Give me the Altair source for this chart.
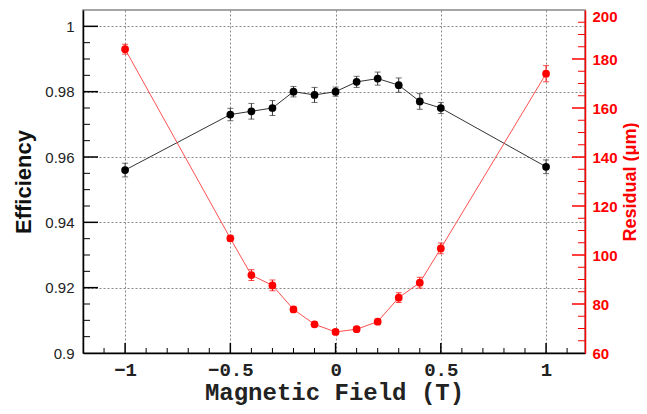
import altair as alt
import pandas as pd

field = [-1.0, -0.5, -0.4, -0.3, -0.2, -0.1, 0.0, 0.1, 0.2, 0.3, 0.4, 0.5, 1.0]
eff = [0.956, 0.973, 0.974, 0.975, 0.980, 0.979, 0.980, 0.983, 0.984, 0.982, 0.977, 0.975, 0.957]
eff_err = [0.0021, 0.0019, 0.0024, 0.0023, 0.0016, 0.0023, 0.0014, 0.0017, 0.0020, 0.0022, 0.0024, 0.0017, 0.0021]
res = [184.0, 106.8, 91.8, 87.6, 77.8, 71.7, 68.6, 69.7, 72.8, 82.6, 88.7, 102.7, 174.0]
res_err = [2.0, 1.2, 2.2, 2.2, 1.0, 1.0, 1.0, 1.0, 1.0, 2.0, 2.2, 2.2, 3.3]

x_major = [-1, -0.5, 0, 0.5, 1]
x_minor = [-1.1, -0.9, -0.8, -0.7, -0.6, -0.4, -0.3, -0.2, -0.1, 0.1, 0.2, 0.3, 0.4, 0.6, 0.7, 0.8, 0.9, 1.1]
left_major = [0.9, 0.92, 0.94, 0.96, 0.98, 1.0]
left_minor = [0.905, 0.91, 0.915, 0.925, 0.93, 0.935, 0.945, 0.95, 0.955, 0.965, 0.97, 0.975, 0.985, 0.99, 0.995]
right_major = [60, 80, 100, 120, 140, 160, 180, 200]
right_minor = [65, 70, 75, 85, 90, 95, 105, 110, 115, 125, 130, 135, 145, 150, 155, 165, 170, 175, 185, 190, 195]

RED = "#ff0000"
W, H = 502, 343

df_e = pd.DataFrame({"x": field, "y": eff, "e": eff_err})
df_e["lo"] = df_e["y"] - df_e["e"]
df_e["hi"] = df_e["y"] + df_e["e"]
df_r = pd.DataFrame({"x": field, "y": res, "e": res_err})
df_r["lo"] = df_r["y"] - df_r["e"]
df_r["hi"] = df_r["y"] + df_r["e"]

xscale = alt.Scale(domain=[-1.2, 1.185], nice=False, zero=False)
yl_scale = alt.Scale(domain=[0.9, 1.005], nice=False, zero=False)
yr_scale = alt.Scale(domain=[60, 200], nice=False, zero=False)

x_axis = alt.Axis(
    values=x_major, ticks=False, grid=True, gridDash=[2, 2], gridColor="#888", gridWidth=1,
    domainColor="black", domainWidth=1.5, labelFont="Liberation Mono", labelFontWeight="bold",
    labelFontSize=19, labelColor="#222", labelPadding=7, labelExpr="format(datum.value, '~g')",
    title="Magnetic Field (T)", titleFont="Liberation Mono", titleFontWeight="bold",
    titleFontSize=24, titleColor="#222", titlePadding=1,
)
yl_axis = alt.Axis(
    values=left_major, ticks=False, grid=True, gridDash=[2, 2], gridColor="#888", gridWidth=1,
    domainColor="black", domainWidth=1.5, labelFont="Liberation Sans", labelFontSize=15,
    labelColor="#222", labelPadding=9, labelExpr="format(datum.value, '~g')",
    title="Efficiency", titleFont="Liberation Sans", titleFontWeight="bold", titleFontSize=22,
    titleColor="#111", titlePadding=9,
)
yr_axis = alt.Axis(
    orient="right", values=right_major, ticks=False, grid=False,
    domainColor=RED, domainWidth=1.5, labelFont="Liberation Sans", labelFontWeight="bold",
    labelFontSize=15, labelColor=RED, labelPadding=7, labelExpr="format(datum.value, '~g')",
    labelBaseline={"condition": {"test": "datum.value == 200", "value": "top"}, "value": "middle"},
    labelOffset={"condition": {"test": "datum.value == 200", "value": -1}, "value": 0},
    title="Residual (μm)", titleFont="Liberation Sans", titleFontWeight="bold", titleFontSize=18,
    titleColor=RED, titlePadding=4, titleAngle=270, titleBaseline="top",
)

X = alt.X("x:Q", scale=xscale, axis=x_axis)

# efficiency layer
be = alt.Chart(df_e)
e_line = be.mark_line(color="#333", strokeWidth=1).encode(x=X, y=alt.Y("y:Q", scale=yl_scale, axis=yl_axis))
e_bar = be.mark_rule(color="#333", strokeWidth=1).encode(x="x:Q", y=alt.Y("lo:Q", scale=yl_scale), y2="hi:Q")
e_cap_lo = be.mark_tick(color="#333", orient="horizontal", size=6, thickness=1).encode(x="x:Q", y=alt.Y("lo:Q", scale=yl_scale))
e_cap_hi = be.mark_tick(color="#333", orient="horizontal", size=6, thickness=1).encode(x="x:Q", y=alt.Y("hi:Q", scale=yl_scale))
e_pts = be.mark_circle(color="black", size=60, opacity=1).encode(x="x:Q", y=alt.Y("y:Q", scale=yl_scale))

lmaj = alt.Chart(pd.DataFrame({"v": left_major[1:]})).mark_rule(color="black", strokeWidth=1.5).encode(
    y=alt.Y("v:Q", scale=yl_scale), x=alt.value(0), x2=alt.value(15))
lmin = alt.Chart(pd.DataFrame({"v": left_minor})).mark_rule(color="black", strokeWidth=1).encode(
    y=alt.Y("v:Q", scale=yl_scale), x=alt.value(0), x2=alt.value(7))
xmaj = alt.Chart(pd.DataFrame({"v": x_major})).mark_rule(color="black", strokeWidth=1.5).encode(
    x=alt.X("v:Q", scale=xscale), y=alt.value(H), y2=alt.value(H - 10))
xmin = alt.Chart(pd.DataFrame({"v": x_minor})).mark_rule(color="black", strokeWidth=1).encode(
    x=alt.X("v:Q", scale=xscale), y=alt.value(H), y2=alt.value(H - 5))

eff_layer = alt.layer(e_line, lmaj, lmin, xmaj, xmin, e_bar, e_cap_lo, e_cap_hi, e_pts)

# residual layer
br = alt.Chart(df_r)
r_line = br.mark_line(color="#ff5050", strokeWidth=1).encode(x="x:Q", y=alt.Y("y:Q", scale=yr_scale, axis=yr_axis))
r_bar = br.mark_rule(color=RED, strokeWidth=1).encode(x="x:Q", y=alt.Y("lo:Q", scale=yr_scale), y2="hi:Q")
r_cap_lo = br.mark_tick(color=RED, orient="horizontal", size=6, thickness=1).encode(x="x:Q", y=alt.Y("lo:Q", scale=yr_scale))
r_cap_hi = br.mark_tick(color=RED, orient="horizontal", size=6, thickness=1).encode(x="x:Q", y=alt.Y("hi:Q", scale=yr_scale))
r_pts = br.mark_circle(color=RED, size=60, opacity=1).encode(x="x:Q", y=alt.Y("y:Q", scale=yr_scale))
rmaj = alt.Chart(pd.DataFrame({"v": right_major[1:-1]})).mark_rule(color=RED, strokeWidth=1.5).encode(
    y=alt.Y("v:Q", scale=yr_scale), x=alt.value(W), x2=alt.value(W - 13))
rmin = alt.Chart(pd.DataFrame({"v": right_minor})).mark_rule(color=RED, strokeWidth=1).encode(
    y=alt.Y("v:Q", scale=yr_scale), x=alt.value(W), x2=alt.value(W - 7))

res_layer = alt.layer(r_line, rmaj, rmin, r_bar, r_cap_lo, r_cap_hi, r_pts)

chart = alt.layer(eff_layer, res_layer).resolve_scale(y="independent").properties(
    width=W, height=H,
    autosize=alt.AutoSizeParams(type="none"),
    padding={"left": 75, "top": 2, "right": 54, "bottom": 53},
).configure_view(stroke="#888", strokeWidth=1.5)

chart.save("out.html", embed_options={"renderer": "svg", "actions": False})
